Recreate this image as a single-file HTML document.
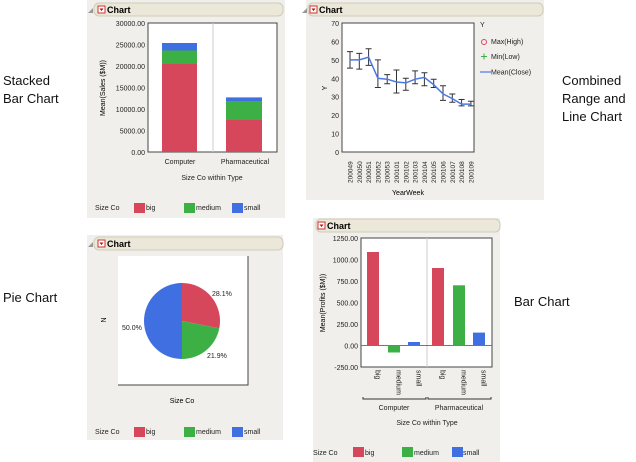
<!DOCTYPE html>
<html><head><style>
body{margin:0;background:#fff;}
svg{display:block;font-family:"Liberation Sans",sans-serif;}
</style></head><body>
<svg width="636" height="462" viewBox="0 0 636 462" xmlns="http://www.w3.org/2000/svg">
<g font-size="13" fill="#111">
<text x="3" y="85">Stacked</text><text x="3" y="103">Bar Chart</text>
<text x="3" y="302">Pie Chart</text>
<text x="562" y="85">Combined</text><text x="562" y="103">Range and</text><text x="562" y="121">Line Chart</text>
<text x="514" y="306">Bar Chart</text>
</g>

<!-- Panel 1 -->
<rect x="87" y="0" width="198" height="218" fill="#f0efeb"/>
<rect x="94" y="3" width="189" height="13" rx="5" fill="#ebe8d9" stroke="#cfcbb8"/>
<path d="M88 13 L93 8 L93 13Z" fill="#999"/>
<rect x="98" y="6" width="7" height="7" fill="#fff" stroke="#c33"/><path d="M99.5 8.5 L103.5 8.5 L101.5 11Z" fill="#c00"/>
<text x="107" y="13" font-size="9" font-weight="bold">Chart</text>
<rect x="148" y="23" width="129" height="129" fill="#fff" stroke="#444"/>
<line x1="213" y1="23" x2="213" y2="152" stroke="#ccc"/>
<rect x="162" y="64" width="35" height="88" fill="#d6475b"/>
<rect x="162" y="50.5" width="35" height="13.5" fill="#3db045"/>
<rect x="162" y="43" width="35" height="7.5" fill="#3f6fe0"/>
<rect x="226" y="120" width="36" height="32" fill="#d6475b"/>
<rect x="226" y="101.7" width="36" height="18.3" fill="#3db045"/>
<rect x="226" y="97.4" width="36" height="4.3" fill="#3f6fe0"/>
<g font-size="7" text-anchor="end" fill="#222">
<text x="145" y="26">30000.00</text><text x="145" y="47.5">25000.00</text><text x="145" y="69">20000.00</text><text x="145" y="90.5">15000.00</text><text x="145" y="112">10000.00</text><text x="145" y="133.5">5000.00</text><text x="145" y="155">0.00</text>
</g>
<text transform="translate(105,88) rotate(-90)" font-size="7" text-anchor="middle">Mean(Sales ($M))</text>
<g font-size="7" fill="#222" text-anchor="middle">
<text x="180" y="164">Computer</text><text x="245" y="164">Pharmaceutical</text>
<text x="212" y="180">Size Co within Type</text>
</g>
<g font-size="7" fill="#222">
<text x="95" y="210">Size Co</text>
<rect x="134" y="203" width="11" height="10" fill="#d6475b"/><text x="146" y="210">big</text>
<rect x="184" y="203" width="11" height="10" fill="#3db045"/><text x="196" y="210">medium</text>
<rect x="232" y="203" width="11" height="10" fill="#3f6fe0"/><text x="244" y="210">small</text>
</g>

<!-- Panel 2 -->
<rect x="306" y="0" width="238" height="200" fill="#f0efeb"/>
<rect x="308" y="3" width="235" height="13" rx="5" fill="#ebe8d9" stroke="#cfcbb8"/>
<path d="M302 13 L307 8 L307 13Z" fill="#999"/>
<rect x="310" y="6" width="7" height="7" fill="#fff" stroke="#c33"/><path d="M311.5 8.5 L315.5 8.5 L313.5 11Z" fill="#c00"/>
<text x="319" y="13" font-size="9" font-weight="bold">Chart</text>
<rect x="342" y="23" width="132" height="129" fill="#fff" stroke="#444"/>
<g font-size="7" text-anchor="end" fill="#222">
<text x="339" y="26">70</text><text x="339" y="44.4">60</text><text x="339" y="62.9">50</text><text x="339" y="81.3">40</text><text x="339" y="99.7">30</text><text x="339" y="118.2">20</text><text x="339" y="136.6">10</text><text x="339" y="155">0</text>
</g>
<text transform="translate(327,88) rotate(-90)" font-size="7" text-anchor="middle">Y</text>
<g stroke="#333" stroke-width="1" fill="none">
<path d="M350 51.6V68.1M347 51.6h6M347 68.1h6"/>
<path d="M359.3 53.4V69.1M356.3 53.4h6M356.3 69.1h6"/>
<path d="M368.6 48.8V65.4M365.6 48.8h6M365.6 65.4h6"/>
<path d="M377.9 59.9V87.5M374.9 59.9h6M374.9 87.5h6"/>
<path d="M387.2 74.6V83.8M384.2 74.6h6M384.2 83.8h6"/>
<path d="M396.5 70V93M393.5 70h6M393.5 93h6"/>
<path d="M405.8 78.3V90.3M402.8 78.3h6M402.8 90.3h6"/>
<path d="M415.1 70.9V83.8M412.1 70.9h6M412.1 83.8h6"/>
<path d="M424.4 72.7V85.7M421.4 72.7h6M421.4 85.7h6"/>
<path d="M433.7 79.2V87.5M430.7 79.2h6M430.7 87.5h6"/>
<path d="M443 85.7V100.4M440 85.7h6M440 100.4h6"/>
<path d="M452.3 94V102.2M449.3 94h6M449.3 102.2h6"/>
<path d="M461.6 99.5V105.9M458.6 99.5h6M458.6 105.9h6"/>
<path d="M470.9 101.3V105.9M467.9 101.3h6M467.9 105.9h6"/>
</g>
<polyline fill="none" stroke="#4a78e6" stroke-width="1.5" points="350,59.9 359.3,59.9 368.6,57.1 377.9,78.3 387.2,79.2 396.5,82 405.8,82.9 415.1,79.2 424.4,77.4 433.7,84.7 443,93.9 452.3,98.6 461.6,104.1 470.9,104.1"/>
<g font-size="6.5" fill="#222">
<text transform="translate(352.5,183) rotate(-90)">200049</text>
<text transform="translate(361.8,183) rotate(-90)">200050</text>
<text transform="translate(371.1,183) rotate(-90)">200051</text>
<text transform="translate(380.4,183) rotate(-90)">200052</text>
<text transform="translate(389.7,183) rotate(-90)">200053</text>
<text transform="translate(399,183) rotate(-90)">200101</text>
<text transform="translate(408.3,183) rotate(-90)">200102</text>
<text transform="translate(417.6,183) rotate(-90)">200103</text>
<text transform="translate(426.9,183) rotate(-90)">200104</text>
<text transform="translate(436.2,183) rotate(-90)">200105</text>
<text transform="translate(445.5,183) rotate(-90)">200106</text>
<text transform="translate(454.8,183) rotate(-90)">200107</text>
<text transform="translate(464.1,183) rotate(-90)">200108</text>
<text transform="translate(473.4,183) rotate(-90)">200109</text>
</g>
<text x="408" y="195" font-size="7" text-anchor="middle">YearWeek</text>
<g font-size="7" fill="#222">
<text x="480" y="27">Y</text>
<circle cx="484" cy="42" r="2.5" fill="none" stroke="#d6475b"/><text x="491" y="44">Max(High)</text>
<path d="M481 56.5h6M484 53.5v6" stroke="#3db045"/><text x="491" y="59">Min(Low)</text>
<line x1="480" y1="72" x2="491" y2="72" stroke="#4a78e6" stroke-width="1.2"/><text x="491" y="74.5">Mean(Close)</text>
</g>

<!-- Panel 3 pie -->
<rect x="87" y="235" width="196" height="205" fill="#f0efeb"/>
<rect x="94" y="237" width="189" height="13" rx="5" fill="#ebe8d9" stroke="#cfcbb8"/>
<path d="M88 247 L93 242 L93 247Z" fill="#999"/>
<rect x="98" y="240" width="7" height="7" fill="#fff" stroke="#c33"/><path d="M99.5 242.5 L103.5 242.5 L101.5 245Z" fill="#c00"/>
<text x="107" y="247" font-size="9" font-weight="bold">Chart</text>
<rect x="118" y="256" width="130" height="129" fill="#fff"/>
<path d="M248 256V385H118" fill="none" stroke="#444"/>
<path d="M182 321 L182 283 A38 38 0 0 1 219.3 328.4Z" fill="#d6475b"/>
<path d="M182 321 L219.3 328.4 A38 38 0 0 1 182 359Z" fill="#3db045"/>
<path d="M182 321 L182 359 A38 38 0 0 1 182 283Z" fill="#3f6fe0"/>
<g font-size="7" fill="#222">
<text x="212" y="296">28.1%</text><text x="207" y="358">21.9%</text><text x="122" y="330">50.0%</text>
</g>
<text transform="translate(106,320) rotate(-90)" font-size="7" text-anchor="middle">N</text>
<text x="182" y="403" font-size="7" text-anchor="middle">Size Co</text>
<g font-size="7" fill="#222">
<text x="95" y="434">Size Co</text>
<rect x="134" y="427" width="11" height="10" fill="#d6475b"/><text x="146" y="434">big</text>
<rect x="184" y="427" width="11" height="10" fill="#3db045"/><text x="196" y="434">medium</text>
<rect x="232" y="427" width="11" height="10" fill="#3f6fe0"/><text x="244" y="434">small</text>
</g>

<!-- Panel 4 -->
<rect x="313" y="218" width="187" height="244" fill="#f0efeb"/>
<rect x="316" y="219" width="184" height="13" rx="5" fill="#ebe8d9" stroke="#cfcbb8"/>
<rect x="318" y="222" width="7" height="7" fill="#fff" stroke="#c33"/><path d="M319.5 224.5 L323.5 224.5 L321.5 227Z" fill="#c00"/>
<text x="327" y="229" font-size="9" font-weight="bold">Chart</text>
<rect x="361" y="238" width="131" height="129" fill="#fff" stroke="#444"/>
<line x1="427" y1="238" x2="427" y2="367" stroke="#ccc"/>
<line x1="361" y1="345.5" x2="492" y2="345.5" stroke="#777"/>
<rect x="367" y="252" width="12" height="93.5" fill="#d6475b"/>
<rect x="388" y="345.5" width="12" height="7" fill="#3db045"/>
<rect x="408" y="342" width="12" height="3.5" fill="#3f6fe0"/>
<rect x="432" y="268" width="12" height="77.5" fill="#d6475b"/>
<rect x="453" y="285.3" width="12" height="60.2" fill="#3db045"/>
<rect x="473" y="332.6" width="12" height="12.9" fill="#3f6fe0"/>
<g font-size="7" text-anchor="end" fill="#222">
<text x="358" y="241">1250.00</text><text x="358" y="262.5">1000.00</text><text x="358" y="284">750.00</text><text x="358" y="305.5">500.00</text><text x="358" y="327">250.00</text><text x="358" y="348.5">0.00</text><text x="358" y="370">-250.00</text>
</g>
<text transform="translate(325,303) rotate(-90)" font-size="7" text-anchor="middle">Mean(Profits ($M))</text>
<g font-size="7" fill="#222">
<text transform="translate(375.5,370) rotate(90)">big</text>
<text transform="translate(396.5,370) rotate(90)">medium</text>
<text transform="translate(416.5,370) rotate(90)">small</text>
<text transform="translate(440.5,370) rotate(90)">big</text>
<text transform="translate(461.5,370) rotate(90)">medium</text>
<text transform="translate(481.5,370) rotate(90)">small</text>
</g>
<path d="M363 397v2h63v-2M428 397v2h63v-2" fill="none" stroke="#333"/>
<g font-size="7" text-anchor="middle" fill="#222">
<text x="394" y="410">Computer</text><text x="459" y="410">Pharmaceutical</text>
<text x="427" y="425">Size Co within Type</text>
</g>
<g font-size="7" fill="#222">
<text x="313" y="455">Size Co</text>
<rect x="353" y="447" width="11" height="10" fill="#d6475b"/><text x="365" y="455">big</text>
<rect x="402" y="447" width="11" height="10" fill="#3db045"/><text x="414" y="455">medium</text>
<rect x="452" y="447" width="11" height="10" fill="#3f6fe0"/><text x="463" y="455">small</text>
</g>
</svg>
</body></html>
